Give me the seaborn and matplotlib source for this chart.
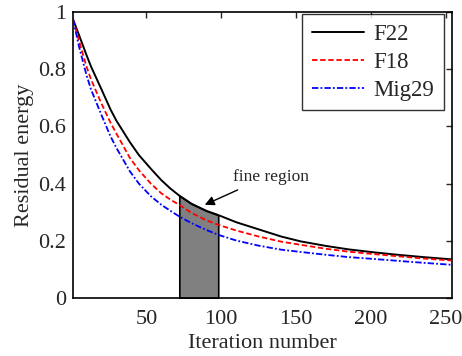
# Residual energy vs iteration number, three aircraft models
import numpy as np
import seaborn as sns
import matplotlib.pyplot as plt

iterations = [1, 5, 10, 13, 20, 26, 30, 39, 45, 53, 60, 66, 72, 80, 90, 98,
              110, 125, 140, 153, 170, 185, 203, 220, 235, 254]
f22 = [0.975, 0.92, 0.85, 0.81, 0.73, 0.66, 0.62, 0.545, 0.50, 0.452, 0.412, 0.383,
       0.358, 0.33, 0.305, 0.29, 0.265, 0.24, 0.215, 0.198, 0.182, 0.17, 0.159,
       0.15, 0.143, 0.135]
f18 = [0.975, 0.90, 0.81, 0.765, 0.68, 0.614, 0.575, 0.49, 0.447, 0.40, 0.366, 0.344,
       0.326, 0.298, 0.272, 0.256, 0.236, 0.215, 0.197, 0.186, 0.172, 0.162, 0.153,
       0.145, 0.138, 0.131]
mig29 = [0.975, 0.88, 0.78, 0.73, 0.64, 0.566, 0.525, 0.443, 0.40, 0.356, 0.326, 0.305,
         0.285, 0.262, 0.238, 0.221, 0.201, 0.183, 0.169, 0.161, 0.151, 0.143, 0.136,
         0.129, 0.123, 0.116]
fine_lo, fine_hi = 72, 98

sns.set_style("white")
plt.rcParams['font.family'] = ['Liberation Serif', 'DejaVu Serif']
plt.rcParams['mathtext.fontset'] = 'stix'

fig = plt.figure(figsize=(4.62, 3.56), dpi=100)
ax = fig.add_axes([0.158, 0.163, 0.820, 0.803])

# shaded "fine region" under the F22 curve
xs = np.linspace(fine_lo, fine_hi, 40)
ys = np.interp(xs, iterations, f22)
ax.fill_between(xs, 0, ys, color="#808080", edgecolor="black", linewidth=1.2, zorder=1)

sns.lineplot(x=iterations, y=f22, ax=ax, color="black", lw=1.4, label="F22", zorder=3)
sns.lineplot(x=iterations, y=f18, ax=ax, color="red", lw=1.3, linestyle=(0, (3, 1.5)),
             label="F18", zorder=3)
sns.lineplot(x=iterations, y=mig29, ax=ax, color="blue", lw=1.3,
             linestyle=(0, (3.5, 1.2, 1, 1.2)), label="Mig29", zorder=3)

ax.annotate("", xy=(89, 0.326), xytext=(111, 0.378),
            arrowprops=dict(arrowstyle="-|>", color="black", lw=1.0,
                            mutation_scale=14, shrinkA=0, shrinkB=0))
ax.text(108, 0.41, "fine region", fontsize=12.5, ha="left", va="baseline")

ax.set_xlim(1, 254)
ax.set_ylim(0, 1)
ax.set_xticks([50, 100, 150, 200, 250])
ax.set_yticks([0, 0.2, 0.4, 0.6, 0.8, 1])
ax.set_yticklabels(["0", "0.2", "0.4", "0.6", "0.8", "1"])
ax.tick_params(direction="in", length=4, width=1, top=True, right=True,
               labelsize=16, pad=5)
ax.tick_params(axis="x", pad=9)
for s in ax.spines.values():
    s.set_linewidth(1.2)
    s.set_color("black")

ax.set_xlabel("Iteration number", fontsize=16, labelpad=3)
ax.set_ylabel("Residual energy", fontsize=16, labelpad=3)

leg = ax.legend(loc="upper right", bbox_to_anchor=(0.979, 0.993), fontsize=16.5,
                frameon=True, fancybox=False, handlelength=2.3, borderpad=0.42,
                labelspacing=0.3, handletextpad=0.4, borderaxespad=0)
leg.get_frame().set_edgecolor("black")
leg.get_frame().set_linewidth(1.0)

fig.savefig("out.png", dpi=100)
